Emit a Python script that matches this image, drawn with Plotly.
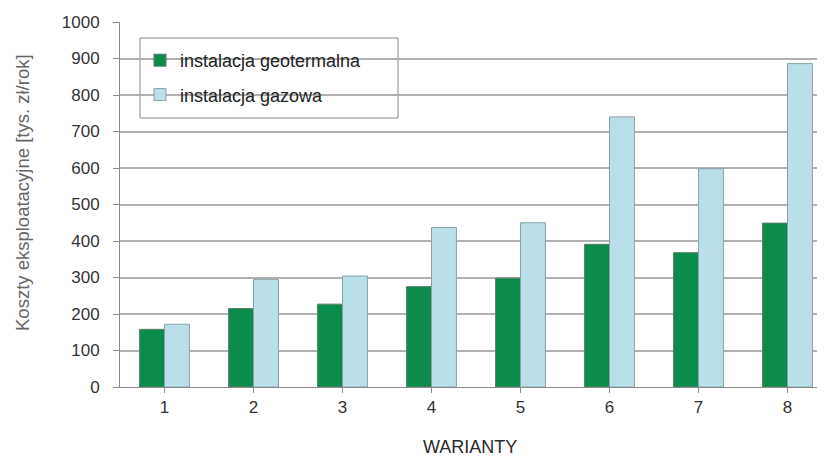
import plotly.graph_objects as go

categories = ["1", "2", "3", "4", "5", "6", "7", "8"]
geotermalna = [158, 215, 227, 275, 298, 391, 368, 449]
gazowa = [172, 295, 304, 437, 450, 740, 598, 886]
y_ticks = [0, 100, 200, 300, 400, 500, 600, 700, 800, 900, 1000]

x_pos = list(range(1, len(categories) + 1))

FONT = "Liberation Sans, Arial, sans-serif"

fig = go.Figure()
fig.add_trace(go.Bar(
    x=x_pos, y=geotermalna, name="instalacja geotermalna",
    marker=dict(color="#0b8c4c", line=dict(color="#5f7a6b", width=1)),
    legendgroup="a",
))
fig.add_trace(go.Bar(
    x=x_pos, y=gazowa, name="instalacja gazowa",
    marker=dict(color="#b9dfe8", line=dict(color="#8aa0a6", width=1)),
    legendgroup="b",
))

# page body has an 8px margin; figure sized so it ends at the window edges
OFF = 8
FW, FH = 825 - OFF, 456 - OFF
L, T, W, H = 120 - OFF, 22 - OFF, 705, 365

def px_x(p):
    return (p - OFF - L) / W

def px_y(p):
    return (T + H - (p - OFF)) / H

fig.update_layout(
    width=FW, height=FH,
    margin=dict(l=L, r=FW - L - W, t=T, b=FH - T - H, autoexpand=False),
    paper_bgcolor="white", plot_bgcolor="white",
    barmode="group", bargap=0.44, bargroupgap=0,
    font=dict(family=FONT, color="#333333", size=16),
    showlegend=True,
    legend=dict(
        x=px_x(140), y=px_y(42), xanchor="left", yanchor="top",
        bgcolor="rgba(0,0,0,0)", borderwidth=0,
        font=dict(size=18, color="#222222", family=FONT),
        tracegroupgap=8,
    ),
    shapes=[dict(
        type="rect", xref="paper", yref="paper",
        x0=px_x(140), x1=px_x(398), y0=px_y(118), y1=px_y(38),
        line=dict(color="#8a8a8a", width=1), fillcolor="rgba(255,255,255,0)",
        layer="below",
    )],
    annotations=[
        dict(text="Koszty eksploatacyjne [tys. zł/rok]", xref="paper", yref="paper",
             x=px_x(22), y=px_y(193), xanchor="center", yanchor="middle",
             textangle=-90, showarrow=False,
             font=dict(size=18.5, color="#666666", family=FONT)),
        dict(text="WARIANTY", xref="paper", yref="paper",
             x=px_x(470), y=px_y(447), xanchor="center", yanchor="middle",
             showarrow=False,
             font=dict(size=18, color="#2a2a2a", family=FONT)),
    ],
    xaxis=dict(
        range=[0.5, 0.5 + W / 89.0],
        tickvals=x_pos, ticktext=categories,
        tickfont=dict(size=17, color="#333333"),
        showgrid=False, zeroline=False, automargin=False,
        showline=True, linecolor="#8a8a8a", linewidth=1,
        ticks="outside", ticklen=5, tickcolor="#8a8a8a",
        tickson="boundaries",
    ),
    yaxis=dict(
        range=[0, 1000],
        tickvals=y_ticks,
        tickfont=dict(size=17, color="#333333"),
        showgrid=True, gridcolor="#b0b0b0", gridwidth=2,
        zeroline=False, automargin=False,
        showline=True, linecolor="#8a8a8a", linewidth=1,
        ticks="outside", ticklen=6, tickcolor="#8a8a8a",
        ticklabelstandoff=10,
    ),
)

fig.write_html("out.html")
